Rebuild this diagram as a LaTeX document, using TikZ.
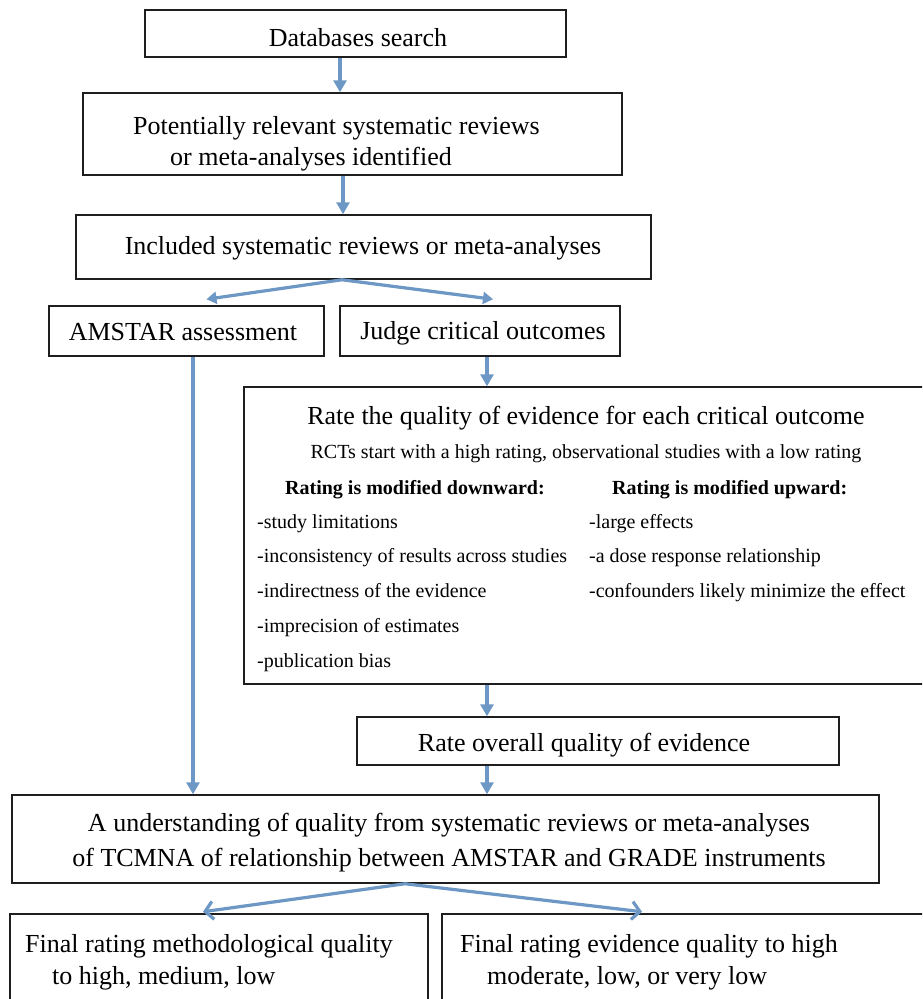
\documentclass[tikz,border=0pt]{standalone}
\usepackage{fontspec}
\setmainfont{Liberation Serif}
\usetikzlibrary{arrows.meta}
\definecolor{arrowblue}{RGB}{109,151,196}
\definecolor{boxline}{RGB}{30,30,30}
\tikzset{
  box/.style={draw=boxline, line width=1.5pt, inner sep=0pt, fill=white},
  big/.style={font=\fontsize{26}{30}\selectfont, inner sep=0pt},
  small/.style={font=\fontsize{20}{24}\selectfont, inner sep=0pt},
  smallbold/.style={font=\fontsize{20}{24}\selectfont\bfseries, inner sep=0pt},
  arr/.style={line width=3.2pt, draw=arrowblue, -{Triangle[length=12pt,width=13pt]}},
  splitarr/.style={line width=3.2pt, draw=arrowblue, -{Triangle[length=10pt,width=12pt]}},
  barbarr/.style={line width=3.2pt, draw=arrowblue, -{Straight Barb[length=8pt,width=18pt]}},
}
\begin{document}
\begin{tikzpicture}[x=1pt,y=-1pt]
\useasboundingbox (0,0) rectangle (922,999);
\clip (0,0) rectangle (922,999);
\fill[white] (0,0) rectangle (922,999);

% boxes
\node[box, minimum width=421pt, minimum height=47pt] (db) at (355.5,33.5) {};
\node[box, minimum width=539pt, minimum height=82pt] (pot) at (352.5,134) {};
\node[box, minimum width=575pt, minimum height=64pt] (inc) at (363.5,247) {};
\node[box, minimum width=275pt, minimum height=50pt] (am) at (186.5,331) {};
\node[box, minimum width=280pt, minimum height=50pt] (jc) at (480,331) {};
\node[box, minimum width=690pt, minimum height=297pt] (rq) at (589,535.5) {};
\node[box, minimum width=482pt, minimum height=48pt] (ro) at (598,741) {};
\node[box, minimum width=867pt, minimum height=88pt] (un) at (445.5,839) {};
\node[box, minimum width=418pt, minimum height=100pt] (fl) at (219,964) {};
\node[box, minimum width=490pt, minimum height=100pt] (fr) at (687,964) {};

% texts
\node[big, anchor=base] (tdb) at (358,46) {Databases search};
\node[big, anchor=base west] (tpot1) at (133,134) {Potentially relevant systematic reviews};
\node[big, anchor=base west] (tpot2) at (170,165) {or meta-analyses identified};
\node[big, anchor=base] (tinc) at (363,254) {Included systematic reviews or meta-analyses};
\node[big, anchor=base] (tam) at (183,340) {AMSTAR assessment};
\node[big, anchor=base] (tjc) at (483,339) {Judge critical outcomes};
\node[big, anchor=base] (trq) at (586,424) {Rate the quality of evidence for each critical outcome};
\node[small, anchor=base] (tsub) at (586,458) {RCTs start with a high rating, observational studies with a low rating};
\node[smallbold, anchor=base west] (hd) at (285,494) {Rating is modified downward:};
\node[smallbold, anchor=base west] (hu) at (612,494) {Rating is modified upward:};
\node[small, anchor=base west] (d1) at (257,528) {-study limitations};
\node[small, anchor=base west] (d2) at (257,562) {-inconsistency of results across studies};
\node[small, anchor=base west] (d3) at (257,597) {-indirectness of the evidence};
\node[small, anchor=base west] (d4) at (257,632) {-imprecision of estimates};
\node[small, anchor=base west] (d5) at (257,667) {-publication bias};
\node[small, anchor=base west] (u1) at (589,528) {-large effects};
\node[small, anchor=base west] (u2) at (589,562) {-a dose response relationship};
\node[small, anchor=base west] (u3) at (589,597) {-confounders likely minimize the effect};
\node[big, anchor=base] (tro) at (584,751) {Rate overall quality of evidence};
\node[big, anchor=base] (tun1) at (449,831) {A understanding of quality from systematic reviews or meta-analyses};
\node[big, anchor=base] (tun2) at (449,866) {of TCMNA of relationship between AMSTAR and GRADE instruments};
\node[big, anchor=base west] (tfl1) at (25,952) {Final rating methodological quality};
\node[big, anchor=base west] (tfl2) at (52,984) {to high, medium, low};
\node[big, anchor=base west] (tfr1) at (460,952) {Final rating evidence quality to high};
\node[big, anchor=base west] (tfr2) at (487,984) {moderate, low, or very low};

% connectors
\draw[arr] ([xshift=-15.5pt]db.south) -- ([xshift=-15.5pt]db.south |- pot.north);
\draw[arr] ([xshift=-9.5pt]pot.south) -- ([xshift=-9.5pt]pot.south |- inc.north);
\coordinate (s1) at ([xshift=-21.5pt]inc.south);
\draw[splitarr] (s1) -- ([xshift=20pt,yshift=6pt]am.north);
\draw[splitarr] (s1) -- ([xshift=13pt,yshift=6pt]jc.north);
\draw[arr] ([xshift=6.5pt]am.south) -- ([xshift=6.5pt]am.south |- un.north);
\draw[arr] ([xshift=7pt]jc.south) -- ([xshift=7pt]jc.south |- rq.north);
\draw[arr] ([xshift=-111pt]ro.north |- rq.south) -- ([xshift=-111pt]ro.north);
\draw[arr] ([xshift=-111pt]ro.south) -- ([xshift=-111pt]ro.south |- un.north);
\coordinate (s2) at ([xshift=-40.5pt]un.south);
\draw[barbarr] (s2) -- ([xshift=-16pt,yshift=1.5pt]fl.north);
\draw[barbarr] (s2) -- ([xshift=-45pt,yshift=1.5pt]fr.north);
\end{tikzpicture}
\end{document}
